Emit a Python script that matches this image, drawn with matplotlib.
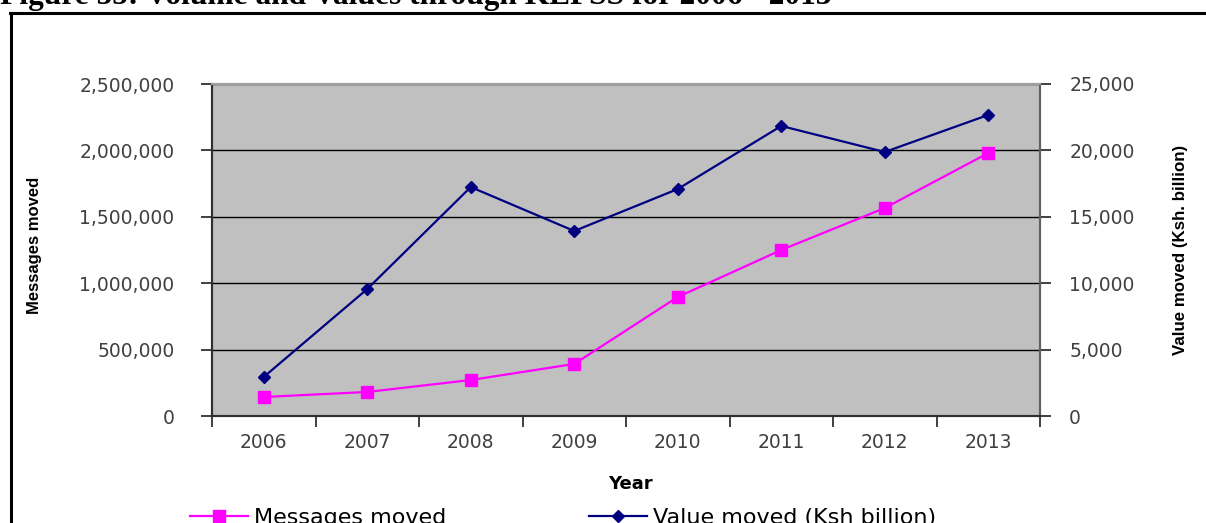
import matplotlib
matplotlib.use("Agg")
import matplotlib.pyplot as plt
from matplotlib.lines import Line2D
from matplotlib.ticker import FuncFormatter, FixedLocator

years = ["2006", "2007", "2008", "2009", "2010", "2011", "2012", "2013"]
messages_moved = [143000, 181000, 271000, 392000, 896000, 1250000, 1566000, 1980000]
value_moved = [2940, 9560, 17240, 13930, 17090, 21840, 19880, 22670]

title = "Figure 55: Volume and Values through KEPSS for 2006 - 2013"

W, H, DPI = 1206, 523, 100
fig = plt.figure(figsize=(W / DPI, H / DPI), dpi=DPI)
fig.patch.set_facecolor("white")

ax = fig.add_axes([212 / W, 1 - 416 / H, (1040 - 212) / W, (416 - 84) / H])
ax.set_facecolor("#C0C0C0")
ax2 = ax.twinx()

x = list(range(len(years)))
ln1, = ax.plot(x, messages_moved, color="#FF00FF", lw=1.6, marker="s", ms=8,
               label="Messages moved", zorder=3)
ln2, = ax2.plot(x, value_moved, color="#000080", lw=1.6, marker="D", ms=6.5,
                label="Value moved (Ksh billion)", zorder=3)

tick_color = "#404040"

ax.set_xlim(-0.5, len(years) - 0.5)
ax.set_ylim(0, 2500000)
ax2.set_ylim(0, 25000)
ax.set_yticks([0, 500000, 1000000, 1500000, 2000000, 2500000])
ax2.set_yticks([0, 5000, 10000, 15000, 20000, 25000])
comma = FuncFormatter(lambda v, p: f"{int(v):,}")
ax.yaxis.set_major_formatter(comma)
ax2.yaxis.set_major_formatter(comma)

# category boundaries get tick marks, labels sit at the category centres
ax.xaxis.set_major_locator(FixedLocator([i - 0.5 for i in range(len(years) + 1)]))
ax.xaxis.set_minor_locator(FixedLocator(x))
ax.set_xticklabels([])
ax.set_xticklabels(years, minor=True)
ax.tick_params(axis="x", which="major", direction="out", length=8, width=1.2,
               color="#202020")
ax.tick_params(axis="x", which="minor", length=0, pad=12, labelsize=13.5,
               labelcolor=tick_color)
ax.tick_params(axis="y", direction="out", length=8, width=1.2, color="#202020",
               pad=19, labelsize=13.5, labelcolor=tick_color)
ax2.tick_params(axis="y", direction="out", length=8, width=1.2, color="#202020",
                pad=13, labelsize=13.5, labelcolor=tick_color)

ax.grid(axis="y", color="black", lw=1.0, zorder=1)
ax.set_axisbelow(True)

for a in (ax, ax2):
    a.spines["left"].set_color("#303030")
    a.spines["bottom"].set_color("#303030")
    a.spines["right"].set_color("#606060")
    a.spines["top"].set_color("#A0A0A0")
    for s in a.spines.values():
        s.set_linewidth(1.5)

label_family = ["Liberation Sans", "DejaVu Sans"]
fig.text(35 / W, 1 - 245 / H, "Messages moved", rotation=90, ha="center",
         va="center", fontsize=12, fontweight="bold", family=label_family)
fig.text(1180 / W, 1 - 250 / H, "Value moved (Ksh. billion)", rotation=90,
         ha="center", va="center", fontsize=12.2, fontweight="bold",
         family=label_family)
fig.text(630 / W, 1 - 484 / H, "Year", ha="center", va="center",
         fontsize=13, fontweight="bold", family=["DejaVu Sans"])

# title running off the top edge
fig.text(0, 1 - 4 / H, title, ha="left", va="baseline", fontsize=22.6,
         fontweight="bold", family=["Liberation Serif", "DejaVu Serif"])

# frame round the chart
fig.add_artist(Line2D([10.5 / W, 10.5 / W], [0, 1 - 13 / H], color="black",
                      lw=2.2, transform=fig.transFigure))
fig.add_artist(Line2D([9.5 / W, 1], [1 - 13 / H, 1 - 13 / H], color="black",
                      lw=2.2, transform=fig.transFigure))

leg = fig.legend(handles=[ln1, ln2], loc="center left", ncol=2,
                 bbox_to_anchor=(190 / W, 1 - 518 / H), frameon=False,
                 fontsize=16, handlelength=2.6, handletextpad=0.3,
                 columnspacing=6.4, borderpad=0, borderaxespad=0)
for t in leg.get_texts():
    t.set_color("black")

fig.savefig("out.png", dpi=DPI)
